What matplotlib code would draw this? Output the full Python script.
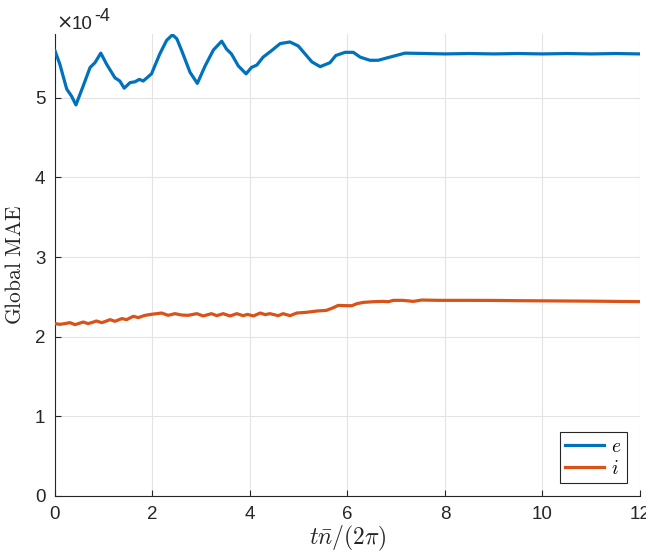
import numpy as np
import matplotlib.pyplot as plt

plt.rcParams['font.family'] = ['Liberation Sans', 'DejaVu Sans']
plt.rcParams['mathtext.fontset'] = 'cm'

# values are in units of 1e-4
t_e = [0.00, 0.10, 0.24, 0.34, 0.43, 0.58, 0.72, 0.82, 0.94, 1.06, 1.23, 1.33,
       1.42, 1.54, 1.64, 1.73, 1.81, 1.98, 2.15, 2.29, 2.41, 2.50, 2.60, 2.77,
       2.92, 3.08, 3.25, 3.42, 3.52, 3.62, 3.76, 3.92, 4.03, 4.14, 4.27, 4.44,
       4.62, 4.82, 4.99, 5.27, 5.44, 5.64, 5.76, 5.95, 6.12, 6.26, 6.46, 6.63,
       6.87, 7.18, 7.60, 8.00, 8.50, 9.00, 9.50, 10.00, 10.50, 11.00, 11.50, 12.00]
mae_e = [5.59, 5.42, 5.11, 5.02, 4.91, 5.15, 5.38, 5.44, 5.56, 5.42, 5.25, 5.21,
         5.12, 5.19, 5.20, 5.23, 5.21, 5.30, 5.55, 5.72, 5.79, 5.74, 5.59, 5.32,
         5.18, 5.40, 5.60, 5.71, 5.61, 5.55, 5.40, 5.30, 5.38, 5.41, 5.51, 5.59,
         5.68, 5.70, 5.65, 5.45, 5.39, 5.44, 5.53, 5.57, 5.57, 5.51, 5.47, 5.47,
         5.51, 5.56, 5.555, 5.55, 5.555, 5.55, 5.555, 5.55, 5.555, 5.55, 5.555, 5.55]

t_i = [0.00, 0.10, 0.21, 0.31, 0.41, 0.50, 0.58, 0.68, 0.77, 0.85, 0.96, 1.05,
       1.13, 1.23, 1.30, 1.37, 1.47, 1.54, 1.61, 1.71, 1.78, 1.85, 1.98, 2.10,
       2.19, 2.32, 2.46, 2.60, 2.73, 2.91, 3.04, 3.21, 3.32, 3.45, 3.59, 3.73,
       3.86, 3.95, 4.07, 4.21, 4.31, 4.41, 4.58, 4.68, 4.82, 4.96, 5.16, 5.37,
       5.57, 5.71, 5.81, 5.98, 6.09, 6.19, 6.33, 6.53, 6.73, 6.84, 6.94, 7.14,
       7.35, 7.52, 7.90, 8.50, 9.00, 9.50, 10.00, 10.50, 11.00, 11.50, 12.00]
mae_i = [2.164, 2.155, 2.165, 2.176, 2.151, 2.168, 2.184, 2.164, 2.180, 2.197, 2.176, 2.195,
         2.214, 2.193, 2.210, 2.227, 2.214, 2.236, 2.256, 2.239, 2.255, 2.268, 2.281, 2.290,
         2.297, 2.268, 2.289, 2.272, 2.268, 2.289, 2.260, 2.289, 2.264, 2.289, 2.260, 2.289,
         2.264, 2.280, 2.260, 2.297, 2.277, 2.289, 2.264, 2.289, 2.264, 2.297, 2.306, 2.322,
         2.331, 2.364, 2.393, 2.389, 2.389, 2.414, 2.431, 2.439, 2.443, 2.439, 2.456, 2.456,
         2.443, 2.460, 2.456, 2.456, 2.455, 2.452, 2.450, 2.448, 2.446, 2.443, 2.440]

fig = plt.figure(figsize=(6.46, 5.53), dpi=100)
ax = fig.add_axes([0.0851, 0.1031, 0.9056, 0.8354])

ax.plot(t_e, mae_e, color='#0072BD', linewidth=2.3, label='$e$', zorder=3,
        solid_joinstyle='round')
ax.plot(t_i, mae_i, color='#D95319', linewidth=2.3, label='$i$', zorder=3,
        solid_joinstyle='round')

ax.set_xlim(0, 12)
ax.set_ylim(0, 5.8)
ax.set_xticks(np.arange(0, 13, 2))
ax.set_yticks(np.arange(0, 6, 1))

for s in ['top', 'right']:
    ax.spines[s].set_visible(False)
for s in ['left', 'bottom']:
    ax.spines[s].set_color('#262626')
    ax.spines[s].set_linewidth(0.8)
ax.tick_params(direction='in', length=4, width=0.8, colors='#262626',
               labelsize=13.5)
ax.tick_params(axis='x', pad=7)
ax.tick_params(axis='y', pad=7)

ax.grid(True, color='#e3e3e3', linewidth=0.8)
ax.set_axisbelow(True)

ax.set_xlabel(r'$t\bar{n}/(2\pi)$', fontsize=17, color='#262626', labelpad=1)
ax.set_ylabel(r'$\mathrm{Global\ MAE}$', fontsize=15.5, color='#262626', labelpad=6)

# MATLAB-style exponent label
fig.text(56 / 646, 1 - 29 / 553, '×', fontsize=14, color='#262626',
         va='baseline', ha='left', family='DejaVu Sans')
fig.text(72 / 646, 1 - 29 / 553, '10', fontsize=13.5, color='#262626',
         va='baseline', ha='left')
fig.text(94 / 646, 1 - 21 / 553, '-4', fontsize=13, color='#262626',
         va='baseline', ha='left')

leg = ax.legend(loc='lower right', fancybox=False, edgecolor='#262626',
                framealpha=1, fontsize=14, handlelength=2.0, handletextpad=0.35,
                borderpad=0.3, labelspacing=0.2, borderaxespad=0.65)
leg.get_frame().set_linewidth(0.8)

fig.savefig('out.png', dpi=100)
